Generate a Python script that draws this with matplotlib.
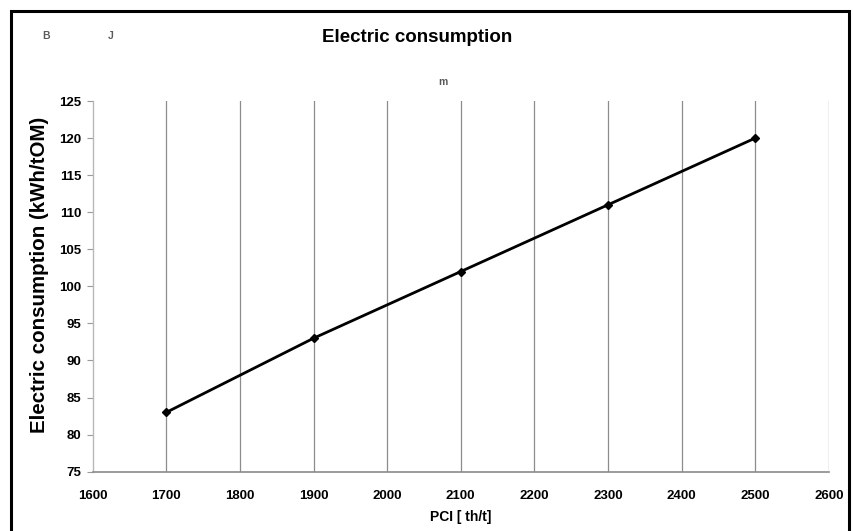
import matplotlib
matplotlib.use("Agg")
import matplotlib.pyplot as plt
from matplotlib import font_manager
from matplotlib.patches import Rectangle

# PCI rate vs. electric consumption
pci = [1700, 1900, 2100, 2300, 2500]
consumption = [83, 93, 102, 111, 120]

x_ticks = [1600, 1700, 1800, 1900, 2000, 2100, 2200, 2300, 2400, 2500, 2600]
y_ticks = [75, 80, 85, 90, 95, 100, 105, 110, 115, 120, 125]

title = "Electric consumption"
x_label = "PCI [ th/t]"
y_label = "Electric consumption (kWh/tOM)"

installed = {f.name for f in font_manager.fontManager.ttflist}
narrow = "Liberation Sans Narrow" if "Liberation Sans Narrow" in installed else "Liberation Sans"
base = "Liberation Sans"

fig = plt.figure(figsize=(8.54, 5.31), dpi=100)
ax = fig.add_axes([0.1085, 0.1117, 0.862, 0.698])

ax.set_xlim(1600, 2600)
ax.set_ylim(75, 125)

# vertical grid lines at each x tick beyond the origin
for xv in x_ticks[1:]:
    ax.axvline(xv, color="#8c8c8c", lw=0.9, zorder=1)

ax.plot(pci, consumption, color="black", lw=2.0, marker="D", ms=4.5,
        markerfacecolor="black", markeredgecolor="black", zorder=3)

ax.set_xticks(x_ticks)
ax.set_yticks(y_ticks)
ax.set_xticklabels([str(v) for v in x_ticks], fontfamily=base,
                   fontweight="bold", fontsize=9.5)
ax.set_yticklabels([str(v) for v in y_ticks], fontfamily=base,
                   fontweight="bold", fontsize=9.5)
ax.tick_params(axis="x", length=0, pad=13)
ax.tick_params(axis="y", length=4, width=0.8, color="#999999", pad=4)

for side in ("top", "right"):
    ax.spines[side].set_visible(False)
ax.spines["left"].set_color("#b8b8b8")
ax.spines["left"].set_linewidth(1.0)
ax.spines["bottom"].set_color("#8a8a8a")
ax.spines["bottom"].set_linewidth(1.2)

ax.set_xlabel(x_label, fontfamily=base, fontweight="bold", fontsize=10,
              labelpad=6)

fig.text(40 / 854, 1 - 275 / 531, y_label, rotation=90, ha="center",
         va="center", fontfamily=base, fontweight="bold", fontsize=14.8)

title_size = 15 if narrow != base else 13.5
fig.text(417 / 854, 1 - 38 / 531, title, ha="center", va="center",
         fontfamily=narrow, fontweight="bold", fontsize=title_size)

# faint stray marks in the header area
for s, px, py in (("B", 46, 36), ("J", 111, 36), ("m", 443, 82)):
    fig.text(px / 854, 1 - py / 531, s, ha="center", va="center",
             fontfamily=base, fontweight="bold", fontsize=7.5, color="#5a5a5a")

# black frame around the chart, open past the bottom edge
fig.add_artist(Rectangle((11 / 854, -0.1), (849 - 11) / 854, 1.1 - 11 / 531,
                         transform=fig.transFigure, fill=False,
                         edgecolor="black", lw=2.2))

fig.savefig("out.png", dpi=100)
